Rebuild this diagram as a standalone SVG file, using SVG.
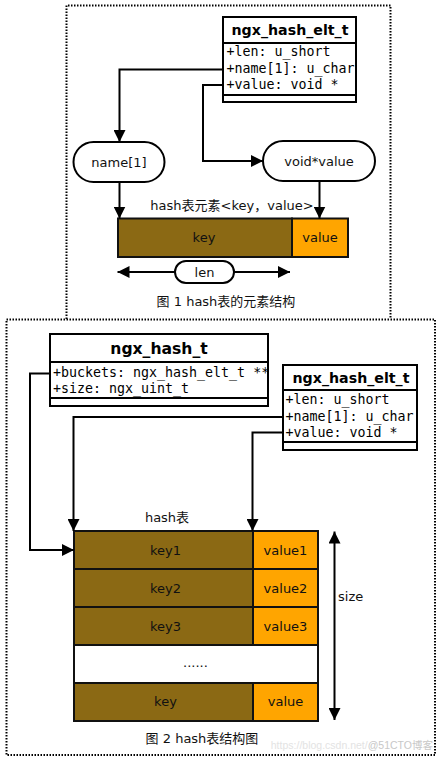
<svg xmlns="http://www.w3.org/2000/svg" width="444" height="763" viewBox="0 0 444 763">
<style>
.frame{fill:none;stroke:#000;stroke-width:2;stroke-dasharray:1.5 1.5}
.box{fill:#fff;stroke:#000;stroke-width:2}
.sep{stroke:#000;stroke-width:2}
.conn{fill:none;stroke:#000;stroke-width:2}
.title{font-family:"DejaVu Sans",sans-serif;font-weight:bold;text-anchor:middle;fill:#000}
.attr{font-family:"DejaVu Sans Mono",monospace;font-size:13.3px;fill:#000}
.lbl{font-family:"DejaVu Sans","Noto Sans CJK SC",sans-serif;font-size:13px;text-anchor:middle;fill:#111}
.pill{fill:#fff;stroke:#000;stroke-width:2}
.k{fill:#8B6914;stroke:#111;stroke-width:2}
.v{fill:#FFA500;stroke:#111;stroke-width:2}
.e{fill:#fff;stroke:#111;stroke-width:2}
</style>
<defs>
<marker id="ah" viewBox="0 0 12 12" refX="12" refY="6" markerWidth="12" markerHeight="12" markerUnits="userSpaceOnUse" orient="auto-start-reverse">
<path d="M0,0 L12,6 L0,12 z" fill="#000"/>
</marker>
</defs>
<rect width="444" height="763" fill="#fff"/>

<!-- frames -->
<path class="frame" d="M66.5,319 V5.5 H390.5 V319"/>
<rect class="frame" x="6.5" y="319.5" width="428.5" height="435.5"/>

<!-- ===== Figure 1 ===== -->
<g id="elt1">
<rect class="box" x="223" y="17" width="133" height="85"/>
<line class="sep" x1="223" y1="43" x2="356" y2="43"/>
<line class="sep" x1="223" y1="95" x2="356" y2="95"/>
<text class="title" x="290" y="35" font-size="14.2">ngx_hash_elt_t</text>
<text class="attr" x="226.5" y="56">+len: u_short</text>
<text class="attr" x="226.5" y="73">+name[1]: u_char</text>
<text class="attr" x="226.5" y="89">+value: void *</text>
</g>

<g id="name1">
<rect class="pill" x="73.5" y="142" width="91" height="40" rx="20" ry="20"/>
<text class="lbl" x="119" y="166.5">name[1]</text>
</g>

<g id="voidvalue">
<rect class="pill" x="263" y="141" width="112" height="40" rx="20" ry="20"/>
<text class="lbl" x="319" y="165.5">void*value</text>
</g>

<g id="element1">
<text class="lbl" x="232" y="209.5">hash表元素&lt;key，value&gt;</text>
<rect class="k" x="118" y="218.5" width="174" height="38.5"/>
<rect class="v" x="292" y="218.5" width="56" height="38.5"/>
<text class="lbl" x="204" y="242">key</text>
<text class="lbl" x="320" y="242">value</text>
</g>

<g id="len">
<rect class="pill" x="175" y="261" width="59" height="22" rx="11" ry="11"/>
<text class="lbl" x="204.5" y="276.5">len</text>
</g>

<text class="lbl" x="226" y="306">图 1 hash表的元素结构</text>

<g id="connectors1">
<path class="conn" d="M223,69.5 H119.5 V142" marker-end="url(#ah)"/>
<path class="conn" d="M223,85 H203 V161 H263" marker-end="url(#ah)"/>
<path class="conn" d="M119.5,182 V218.5" marker-end="url(#ah)"/>
<path class="conn" d="M319.5,181 V218.5" marker-end="url(#ah)"/>
<path class="conn" d="M175,272 H117.5" marker-end="url(#ah)"/>
<path class="conn" d="M234,272 H290" marker-end="url(#ah)"/>
</g>

<!-- ===== Figure 2 ===== -->
<g id="hash_t">
<rect class="box" x="50" y="334" width="218" height="72"/>
<line class="sep" x1="50" y1="362" x2="268" y2="362"/>
<line class="sep" x1="50" y1="398" x2="268" y2="398"/>
<text class="title" x="159" y="353.5" font-size="15.6">ngx_hash_t</text>
<text class="attr" x="53" y="377">+buckets: ngx_hash_elt_t **</text>
<text class="attr" x="53" y="392.5">+size: ngx_uint_t</text>
</g>

<g id="elt2">
<rect class="box" x="283" y="365" width="134" height="85"/>
<line class="sep" x1="283" y1="390" x2="417" y2="390"/>
<line class="sep" x1="283" y1="442" x2="417" y2="442"/>
<text class="title" x="351" y="383" font-size="14.2">ngx_hash_elt_t</text>
<text class="attr" x="285.5" y="404">+len: u_short</text>
<text class="attr" x="285.5" y="420.5">+name[1]: u_char</text>
<text class="attr" x="285.5" y="436.5">+value: void *</text>
</g>

<text class="lbl" x="167" y="521.5">hash表</text>

<g id="table">
<rect class="k" x="74" y="531" width="179" height="38"/>
<rect class="v" x="253" y="531" width="65" height="38"/>
<text class="lbl" x="165.5" y="554.5">key1</text>
<text class="lbl" x="285.5" y="554.5">value1</text>
<rect class="k" x="74" y="569" width="179" height="38"/>
<rect class="v" x="253" y="569" width="65" height="38"/>
<text class="lbl" x="165.5" y="592.5">key2</text>
<text class="lbl" x="285.5" y="592.5">value2</text>
<rect class="k" x="74" y="607" width="179" height="38"/>
<rect class="v" x="253" y="607" width="65" height="38"/>
<text class="lbl" x="165.5" y="630.5">key3</text>
<text class="lbl" x="285.5" y="630.5">value3</text>
<rect class="e" x="74" y="645" width="244" height="38"/>
<text class="lbl" x="195.5" y="667">......</text>
<rect class="k" x="74" y="683" width="179" height="38"/>
<rect class="v" x="253" y="683" width="65" height="38"/>
<text class="lbl" x="165.5" y="706">key</text>
<text class="lbl" x="285.5" y="706">value</text>
</g>

<text class="lbl" x="338" y="601" style="text-anchor:start">size</text>

<g id="connectors2">
<path class="conn" d="M50,373.5 H30 V550 H74" marker-end="url(#ah)"/>
<path class="conn" d="M283,417 H73.5 V531" marker-end="url(#ah)"/>
<path class="conn" d="M283,432.5 H252.5 V531" marker-end="url(#ah)"/>
<path class="conn" d="M334.5,531.5 V720" marker-start="url(#ah)" marker-end="url(#ah)"/>
</g>

<text class="lbl" x="202" y="743">图 2 hash表结构图</text>

<text x="433" y="749" text-anchor="end" font-family="'Liberation Sans','Noto Sans CJK SC',sans-serif" font-size="10.5"><tspan fill="#e3e3e3">https://blog.csdn.net/</tspan><tspan fill="#c8c8c8">@51CTO博客</tspan></text>
</svg>
